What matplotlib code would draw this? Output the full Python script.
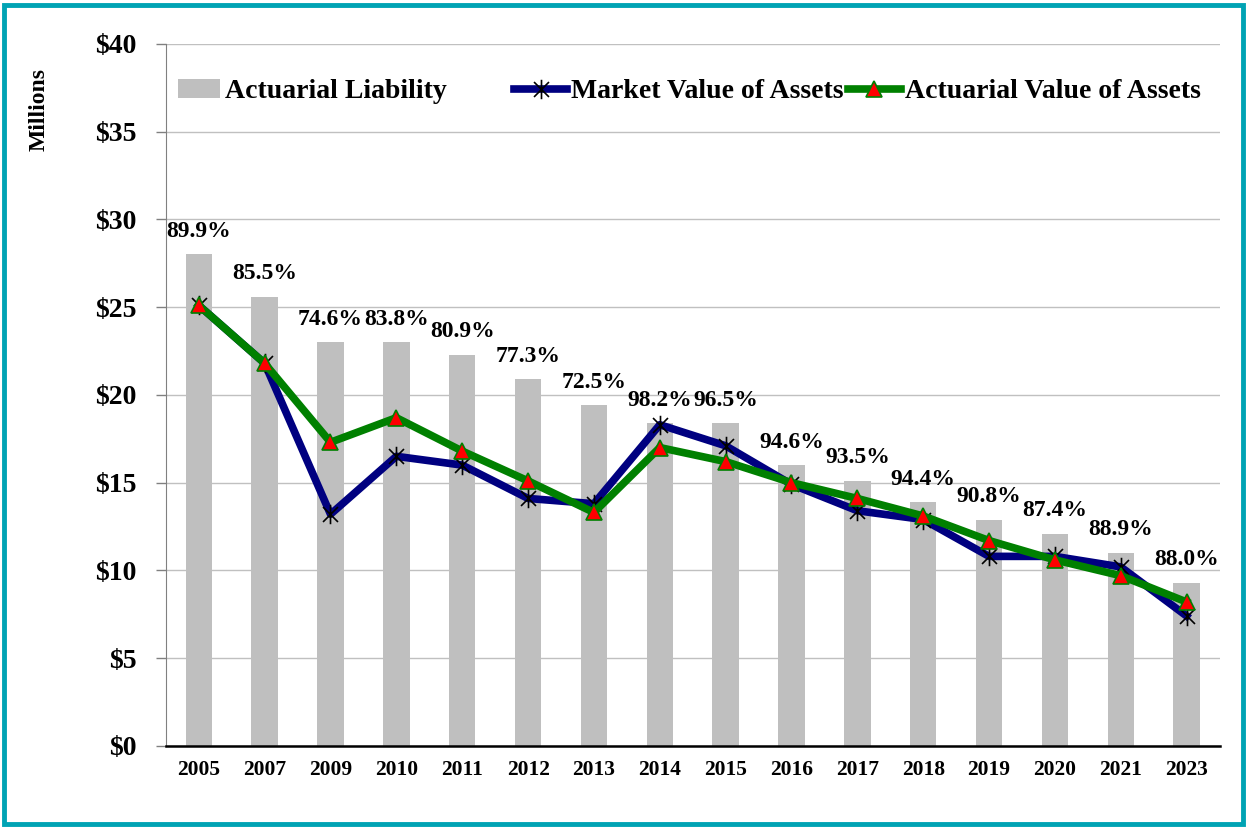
import matplotlib
matplotlib.use("Agg")
import matplotlib.pyplot as plt
from matplotlib.path import Path
from matplotlib.patches import Rectangle, Patch
from matplotlib.lines import Line2D
import numpy as np

years = ["2005", "2007", "2009", "2010", "2011", "2012", "2013", "2014",
         "2015", "2016", "2017", "2018", "2019", "2020", "2021", "2023"]
actuarial_liability = [28.0, 25.6, 23.0, 23.0, 22.3, 20.9, 19.4, 18.4,
                       18.4, 16.0, 15.1, 13.9, 12.9, 12.1, 11.0, 9.3]
market_value = [25.1, 21.8, 13.2, 16.5, 16.0, 14.1, 13.8, 18.3,
                17.1, 14.9, 13.4, 12.9, 10.8, 10.8, 10.2, 7.4]
actuarial_value = [25.1, 21.8, 17.3, 18.7, 16.8, 15.1, 13.3, 17.0,
                   16.2, 15.0, 14.1, 13.1, 11.7, 10.6, 9.7, 8.2]
funded_ratio = ["89.9%", "85.5%", "74.6%", "83.8%", "80.9%", "77.3%", "72.5%", "98.2%",
                "96.5%", "94.6%", "93.5%", "94.4%", "90.8%", "87.4%", "88.9%", "88.0%"]
y_ticks = [0, 5, 10, 15, 20, 25, 30, 35, 40]
y_labels = ["$0", "$5", "$10", "$15", "$20", "$25", "$30", "$35", "$40"]

plt.rcParams['font.family'] = ['Liberation Serif', 'DejaVu Serif']
plt.rcParams['font.weight'] = 'bold'

fig = plt.figure(figsize=(12.47, 8.27), dpi=100)
ax = fig.add_axes([0.133, 0.098, 0.845, 0.849])

x = np.arange(len(years))
ax.bar(x, actuarial_liability, width=0.4, color='#BFBFBF', zorder=2)

star = Path([(-1, -1), (1, 1), (-1, 1), (1, -1), (0, -1.3), (0, 1.3)],
            [Path.MOVETO, Path.LINETO, Path.MOVETO, Path.LINETO, Path.MOVETO, Path.LINETO])

ax.plot(x, market_value, color='#000080', lw=5.5, zorder=3,
        marker=star, markersize=14, markeredgecolor='black', markerfacecolor='none',
        markeredgewidth=1.2)
ax.plot(x, actuarial_value, color='#008000', lw=5.5, zorder=4,
        marker='^', markersize=11, markerfacecolor='#FF0000', markeredgecolor='#008000',
        markeredgewidth=1.2)

for xi, h, lab in zip(x, actuarial_liability, funded_ratio):
    ax.annotate(lab, (xi, h), xytext=(0, 16.5), textcoords='offset points',
                ha='center', va='center', fontsize=17, fontweight='bold')

ax.set_xlim(-0.5, len(years) - 0.5)
ax.set_ylim(0, 40)
ax.set_yticks(y_ticks)
ax.set_yticklabels(y_labels, fontsize=20, fontweight='bold')
ax.set_xticks(x)
ax.set_xticklabels(years, fontsize=15.5, fontweight='bold')
ax.tick_params(axis='x', length=0, pad=10)
ax.tick_params(axis='y', length=7, width=1, color='#808080', pad=14)
ax.grid(axis='y', color='#C0C0C0', lw=1, zorder=0)
ax.set_axisbelow(True)
for s in ['top', 'right']:
    ax.spines[s].set_visible(False)
ax.spines['left'].set_color('#808080')
ax.spines['bottom'].set_color('black')
ax.spines['bottom'].set_linewidth(1.8)

fig.text(0.031, 0.868, "Millions", rotation=90, ha='center', va='center',
         fontsize=17, fontweight='bold')

leg1 = ax.legend(handles=[Patch(facecolor='#BFBFBF', edgecolor='none', label='Actuarial Liability')],
                 loc='center left', bbox_to_anchor=(-0.012, 0.932), frameon=False,
                 prop={'size': 20, 'weight': 'bold'}, handlelength=1.5, handleheight=0.7,
                 handletextpad=0.2)
ax.add_artist(leg1)
h2 = Line2D([], [], color='#000080', lw=5.5, marker=star, markersize=14,
            markeredgecolor='black', markerfacecolor='none', markeredgewidth=1.2)
h3 = Line2D([], [], color='#008000', lw=5.5, marker='^', markersize=11,
            markerfacecolor='#FF0000', markeredgecolor='#008000', markeredgewidth=1.2)
ax.legend([h2, h3], ["Market Value of Assets", "Actuarial Value of Assets"],
          loc='center right', bbox_to_anchor=(1.006, 0.932), ncol=2, frameon=False,
          prop={'size': 20, 'weight': 'bold'}, handlelength=1.9, handletextpad=0.15,
          columnspacing=0.15)

fig.patches.append(Rectangle((0.003, 0.004), 0.994, 0.99, transform=fig.transFigure,
                             fill=False, edgecolor='#00A3B4', lw=3.5))

fig.savefig("out.png", dpi=100)
